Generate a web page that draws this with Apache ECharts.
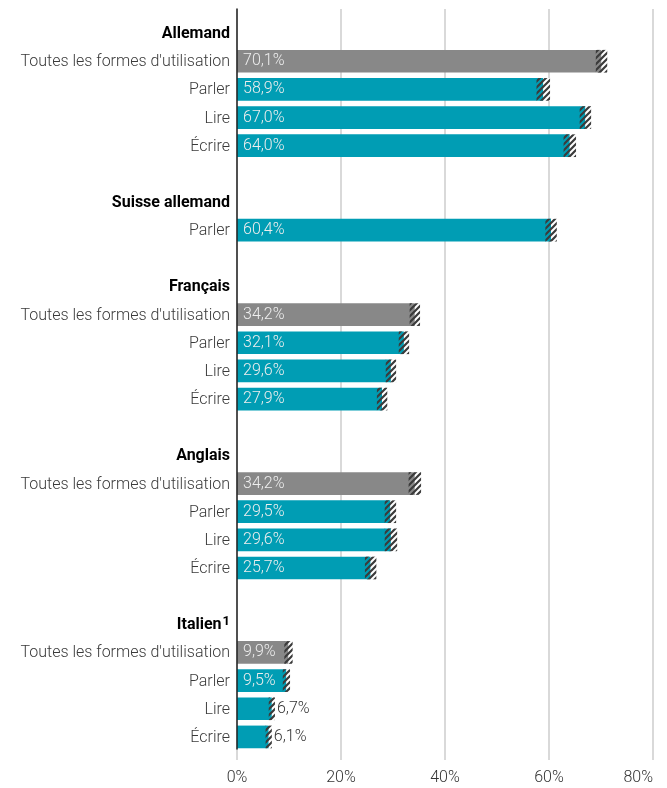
<!DOCTYPE html>
<html lang="fr">
<head>
<meta charset="utf-8">
<title>Utilisation des langues</title>
<script src="https://cdn.jsdelivr.net/npm/echarts@6/dist/echarts.min.js"></script>
<style>
  html, body { margin: 0; padding: 0; background: #ffffff; }
  #chart { width: 667px; height: 788px; }
</style>
</head>
<body>
<div id="chart"></div>
<script>
// Language groups and the forms of use reported for each
const groupNames = ['Allemand', 'Suisse allemand', 'Français', 'Anglais', 'Italien'];
const groupNotes = ['', '', '', '', '1'];
const groupForms = [
  ["Toutes les formes d'utilisation", 'Parler', 'Lire', 'Écrire'],
  ['Parler'],
  ["Toutes les formes d'utilisation", 'Parler', 'Lire', 'Écrire'],
  ["Toutes les formes d'utilisation", 'Parler', 'Lire', 'Écrire'],
  ["Toutes les formes d'utilisation", 'Parler', 'Lire', 'Écrire']
];
// Shares in % and their confidence margins (±)
const groupValues = [
  [70.1, 58.9, 67.0, 64.0],
  [60.4],
  [34.2, 32.1, 29.6, 27.9],
  [34.2, 29.5, 29.6, 25.7],
  [9.9, 9.5, 6.7, 6.1]
];
const groupMargins = [
  [1.1, 1.3, 1.1, 1.2],
  [1.1],
  [1.0, 1.0, 1.0, 1.0],
  [1.2, 1.1, 1.2, 1.1],
  [0.8, 0.7, 0.6, 0.6]
];
const xTicks = [0, 20, 40, 60, 80];

const TOTAL_LABEL = "Toutes les formes d'utilisation";
const GRAY = '#888888';
const TEAL = '#009db4';
const BAR_RATIO = 0.806;
const FONT = 'Roboto, "Noto Sans", sans-serif';
const FS = 16;

// Flatten the groups into rows: header, items, then a spacer row
const rowLabels = [];
const rowNotes = [];
const headerRows = [];
const barData = [];
const ciData = [];
groupNames.forEach((name, g) => {
  headerRows.push(rowLabels.length);
  rowLabels.push(name);
  rowNotes.push(groupNotes[g]);
  barData.push('-');
  groupForms[g].forEach((form, i) => {
    const row = rowLabels.length;
    const v = groupValues[g][i];
    const isTotal = form === TOTAL_LABEL;
    const inside = v >= 8;
    rowLabels.push(form);
    rowNotes.push('');
    barData.push({
      value: [v, row],
      itemStyle: { color: isTotal ? GRAY : TEAL },
      label: { show: inside }
    });
    ciData.push([v, row, groupMargins[g][i], inside ? 0 : 1]);
  });
  if (g < groupNames.length - 1) {
    rowLabels.push('');
    rowNotes.push('');
    barData.push('-');
  }
});

const fmt = v => v.toFixed(1).replace('.', ',') + '%';

// Diagonal stripe tile for the confidence interval
function stripeTile() {
  const s = 6;
  const c = document.createElement('canvas');
  c.width = s; c.height = s;
  const ctx = c.getContext('2d');
  ctx.strokeStyle = '#3b3b3b';
  ctx.lineWidth = 2.2;
  ctx.lineCap = 'square';
  ctx.beginPath();
  ctx.moveTo(-1, s + 1); ctx.lineTo(s + 1, -1);
  ctx.moveTo(-1, 1); ctx.lineTo(1, -1);
  ctx.moveTo(s - 1, s + 1); ctx.lineTo(s + 1, s - 1);
  ctx.stroke();
  return c;
}
const stripes = { image: stripeTile(), repeat: 'repeat' };

const chart = echarts.init(document.getElementById('chart'), null, { renderer: 'canvas' });

const hiddenX = (idx) => ({
  type: 'value', gridIndex: idx, min: xTicks[0], max: xTicks[xTicks.length - 1],
  interval: 20, show: false
});

chart.setOption({
  animation: false,
  backgroundColor: '#ffffff',
  grid: [
    { left: 237, right: 14, top: 9, bottom: 28 },   // gridlines + x labels
    { left: 237, right: 14, top: 9, bottom: 39 },   // vertical axis line
    { left: 237, right: 14, top: 19, bottom: 37 }   // bars
  ],
  xAxis: [
    {
      type: 'value', gridIndex: 0,
      min: xTicks[0], max: xTicks[xTicks.length - 1], interval: 20,
      axisLine: { show: false },
      axisTick: { show: false },
      splitLine: { show: true, lineStyle: { color: '#d9d9d9', width: 2 } },
      axisLabel: {
        formatter: '{value}%', color: '#333333', fontSize: FS,
        fontFamily: FONT, fontWeight: 300, margin: 10, alignMaxLabel: 'right'
      }
    },
    hiddenX(1),
    hiddenX(2)
  ],
  yAxis: [
    { type: 'value', gridIndex: 0, show: false, min: 0, max: 1 },
    {
      type: 'value', gridIndex: 1, min: 0, max: 1, z: 10,
      axisLine: { show: true, lineStyle: { color: '#222222', width: 1.5 } },
      axisTick: { show: false }, axisLabel: { show: false },
      splitLine: { show: false }
    },
    {
      type: 'category', gridIndex: 2, inverse: true,
      data: rowLabels.map((_, i) => String(i)),
      axisLine: { show: false }, axisTick: { show: false },
      splitLine: { show: false },
      axisLabel: {
        interval: 0, margin: 7, fontSize: FS, fontFamily: FONT, fontWeight: 300,
        color: '#3a3a3a', padding: [2, 0, 0, 0],
        formatter: (val, idx) => {
          if (!headerRows.includes(idx)) return rowLabels[idx];
          const note = rowNotes[idx] ? '{s|' + rowNotes[idx] + '}' : '';
          return '{h|' + rowLabels[idx] + '}' + note;
        },
        rich: {
          h: { fontSize: FS, fontWeight: 'bold', color: '#000000', fontFamily: FONT },
          s: { fontSize: 13, fontWeight: 'bold', color: '#000000', fontFamily: FONT,
               padding: [0, 0, 8, 1] }
        }
      }
    }
  ],
  series: [
    {
      type: 'bar', xAxisIndex: 2, yAxisIndex: 2,
      barWidth: (BAR_RATIO * 100) + '%',
      encode: { x: 0, y: 1 },
      data: barData,
      label: {
        position: 'insideLeft', distance: 6,
        color: '#eeeeee', fontSize: FS, fontFamily: FONT, fontWeight: 300,
        formatter: p => fmt(p.value[0])
      }
    },
    {
      type: 'custom', xAxisIndex: 2, yAxisIndex: 2,
      encode: { x: 0, y: 1 },
      data: ciData,
      z: 3,
      renderItem: (params, api) => {
        const v = api.value(0), row = api.value(1), m = api.value(2);
        const outside = api.value(3) === 1;
        const lo = api.coord([v - m, row]);
        const mid = api.coord([v, row]);
        const hi = api.coord([v + m, row]);
        const h = api.size([0, 1])[1] * BAR_RATIO;
        const top = lo[1] - h / 2;
        const children = [
          { type: 'rect', shape: { x: mid[0], y: top, width: hi[0] - mid[0], height: h },
            style: { fill: '#ffffff' } },
          { type: 'rect', shape: { x: lo[0], y: top, width: hi[0] - lo[0], height: h },
            style: { fill: stripes } }
        ];
        if (outside) {
          children.push({
            type: 'text', x: hi[0] + 2, y: lo[1],
            style: {
              text: fmt(v), fill: '#333333', fontSize: FS, fontFamily: FONT,
              fontWeight: 300, verticalAlign: 'middle', align: 'left'
            }
          });
        }
        return { type: 'group', children };
      }
    }
  ]
});
</script>
</body>
</html>
